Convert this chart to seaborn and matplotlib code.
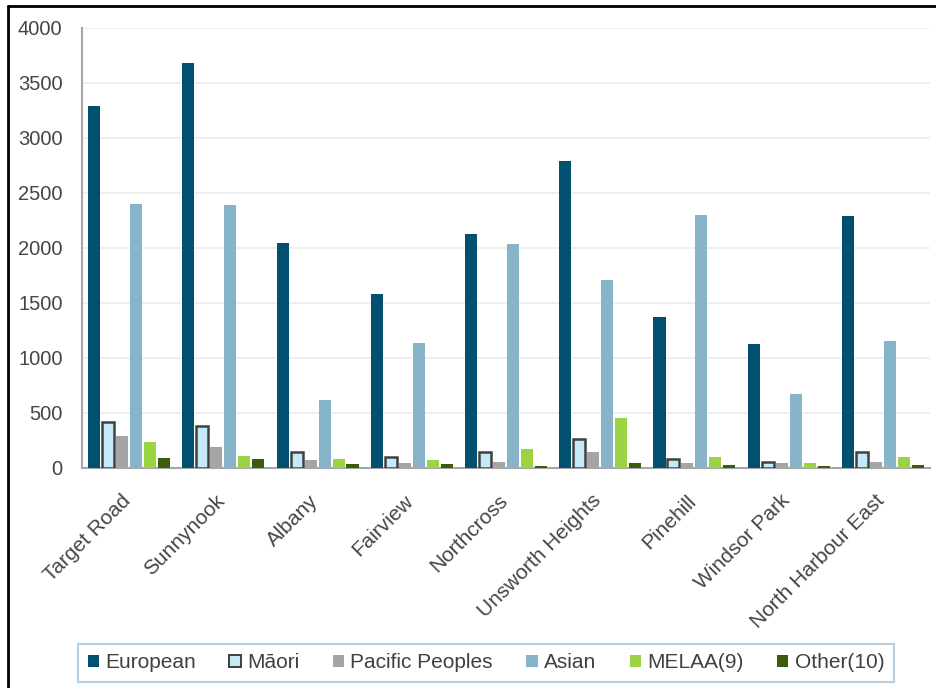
import matplotlib
matplotlib.use("Agg")
import matplotlib.pyplot as plt
import matplotlib.transforms as mtransforms
from matplotlib.patches import Patch
from matplotlib.lines import Line2D
import seaborn as sns
import pandas as pd

# ---- data ----
areas = ["Target Road", "Sunnynook", "Albany", "Fairview", "Northcross",
         "Unsworth Heights", "Pinehill", "Windsor Park", "North Harbour East"]
groups = ["European", "Māori", "Pacific Peoples", "Asian", "MELAA(9)", "Other(10)"]
european = [3285, 3680, 2045, 1578, 2120, 2785, 1368, 1124, 2282]
maori = [416, 373, 140, 92, 140, 255, 80, 52, 140]
pacific = [289, 186, 68, 41, 52, 144, 38, 41, 52]
asian = [2400, 2387, 612, 1128, 2032, 1709, 2296, 664, 1150]
melaa = [230, 106, 80, 65, 168, 450, 94, 38, 94]
other = [86, 75, 28, 28, 12, 38, 22, 12, 22]
yticks = [0, 500, 1000, 1500, 2000, 2500, 3000, 3500, 4000]

colors = ["#01506F", "#C5EBFA", "#A5A5A5", "#87B4C9", "#9BD443", "#3A5C0C"]

series = [european, maori, pacific, asian, melaa, other]
rows = []
for g, vals in zip(groups, series):
    for a, v in zip(areas, vals):
        rows.append({"Area": a, "Group": g, "Count": v})
df = pd.DataFrame(rows)

sns.set_theme(style="white")
plt.rcParams["font.family"] = ["Liberation Sans", "DejaVu Sans"]

W, H = 937, 688
fig = plt.figure(figsize=(W / 100, H / 100), dpi=100)
ax = fig.add_axes([82 / W, 1 - 467.5 / H, (930 - 82) / W, (467.5 - 27.5) / H])

sns.barplot(data=df, x="Area", y="Count", hue="Group", order=areas,
            hue_order=groups, palette=colors, width=0.89, gap=0.14,
            saturation=1, legend=False, ax=ax, linewidth=0, zorder=3)

# outline for Māori bars
for p in ax.containers[1]:
    p.set_edgecolor("#404040")
    p.set_linewidth(1.8)

ax.set_ylim(0, 4000)
ax.set_xlim(-0.5, len(areas) - 0.5)
ax.set_yticks(yticks)
ax.set_yticklabels([str(t) for t in yticks])
ax.set_xlabel("")
ax.set_ylabel("")
ax.yaxis.grid(True, color="#EBEBEB", linewidth=1.2, zorder=0)
ax.set_axisbelow(True)
for s in ["top", "right"]:
    ax.spines[s].set_visible(False)
for s in ["left", "bottom"]:
    ax.spines[s].set_color("#A6A6A6")
    ax.spines[s].set_linewidth(1.5)

ax.tick_params(axis="y", length=0, pad=14, labelsize=14.5, labelcolor="#454545")
ax.tick_params(axis="x", length=0, pad=17, labelsize=15, labelcolor="#454545")
offset = mtransforms.ScaledTranslation(5 / 100, 0, fig.dpi_scale_trans)
for lab in ax.get_xticklabels():
    lab.set_rotation(45)
    lab.set_ha("right")
    lab.set_va("top")
    lab.set_transform(lab.get_transform() + offset)

handles = []
for g, c in zip(groups, colors):
    if g == "Māori":
        handles.append(Patch(facecolor=c, edgecolor="#404040", linewidth=1.4, label=g))
    else:
        handles.append(Patch(facecolor=c, edgecolor="none", label=g))
leg = fig.legend(handles=handles, loc="center", bbox_to_anchor=(486 / W, 1 - 663 / H),
                 ncol=6, fontsize=15, frameon=True, fancybox=False,
                 handlelength=0.55, handleheight=0.55, handletextpad=0.3,
                 columnspacing=1.6, borderpad=0.45, labelcolor="#404040")
leg.get_frame().set_edgecolor("#A3C6DC")
leg.get_frame().set_linewidth(1.5)

# outer frame (top and left)
fig.add_artist(Line2D([8.5 / W, 8.5 / W], [0, 1 - 6 / H], transform=fig.transFigure,
                      color="black", linewidth=2))
fig.add_artist(Line2D([8 / W, 1], [1 - 6 / H, 1 - 6 / H], transform=fig.transFigure,
                      color="black", linewidth=2))

fig.savefig("out.png", dpi=100, facecolor="white")
